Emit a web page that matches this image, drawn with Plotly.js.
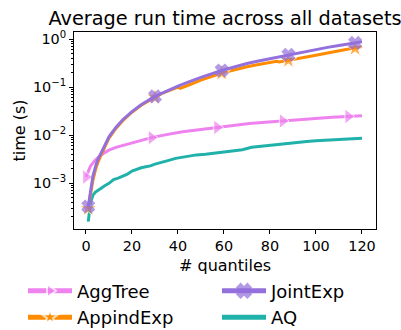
<!DOCTYPE html>
<html>
<head>
<meta charset="utf-8">
<script src="https://cdn.plot.ly/plotly-3.0.1.min.js"></script>
<style>html,body{margin:0;padding:0;background:#fff}#chart{width:401px;height:330px}</style>
</head>
<body>
<div id="chart"></div>
<script>
// ---- data ----
const seriesNames = ['AggTree', 'AppindExp', 'JointExp', 'AQ'];

const aggTreeX = [0, 2, 4, 6, 8, 10, 13, 17, 21, 25, 28.5, 35, 42, 50, 57, 64, 71, 78, 85.5, 93, 100, 107, 114, 120];
const aggTreeY = [1.35e-3, 2.3e-3, 3.0e-3, 3.7e-3, 4.3e-3, 4.9e-3, 5.6e-3, 6.3e-3, 7.1e-3, 7.9e-3, 8.9e-3, 0.0103, 0.0118, 0.0132, 0.0145, 0.016, 0.0175, 0.0185, 0.0198, 0.021, 0.0224, 0.0235, 0.0245, 0.0255];
const aggTreeMarkX = [0, 28.5, 57, 85.5, 114];

const appindX = [1, 2, 3, 4, 5, 6.5, 8, 10, 13, 16, 20, 24, 30, 35, 40, 41, 45, 50, 59, 65, 70, 75, 80, 83, 84, 88, 95, 100, 105, 110, 117, 120];
const appindY = [3.0e-4, 6.0e-4, 1.15e-3, 1.8e-3, 2.6e-3, 3.8e-3, 5.5e-3, 8.7e-3, 0.0138, 0.020, 0.030, 0.042, 0.062, 0.081, 0.100, 0.094, 0.112, 0.14, 0.195, 0.235, 0.265, 0.295, 0.325, 0.345, 0.335, 0.36, 0.42, 0.46, 0.51, 0.56, 0.64, 0.70];
const appindMarkX = [1, 30, 59, 88, 117];

const jointX = [1, 2, 3, 4, 5, 6.5, 8, 10, 13, 16, 20, 24, 30, 35, 40, 45, 50, 59, 65, 70, 75, 80, 88, 95, 100, 105, 110, 117, 120];
const jointY = [3.3e-4, 7.5e-4, 1.4e-3, 2.1e-3, 3.0e-3, 4.2e-3, 6.0e-3, 9.3e-3, 0.0145, 0.021, 0.031, 0.043, 0.064, 0.083, 0.105, 0.13, 0.16, 0.222, 0.27, 0.31, 0.35, 0.39, 0.47, 0.55, 0.61, 0.67, 0.73, 0.83, 0.88];
const jointMarkX = [1, 30, 59, 88, 117];

const aqX = [1, 1.5, 2, 3, 4, 5, 6.5, 8, 10, 12, 14, 16, 18, 20, 22, 24, 26, 28, 30, 33, 36, 39, 42, 45, 48, 52, 56, 60, 64, 68, 72, 76, 80, 84, 88, 92, 96, 100, 104, 108, 112, 116, 120];
const aqY = [1.6e-4, 2.6e-4, 4.0e-4, 5.6e-4, 6.5e-4, 7.0e-4, 7.9e-4, 8.8e-4, 1.0e-3, 1.2e-3, 1.28e-3, 1.42e-3, 1.55e-3, 1.8e-3, 1.95e-3, 2.1e-3, 2.2e-3, 2.3e-3, 2.5e-3, 2.7e-3, 3.0e-3, 3.3e-3, 3.5e-3, 3.7e-3, 3.9e-3, 4.0e-3, 4.2e-3, 4.4e-3, 4.7e-3, 5.0e-3, 5.6e-3, 5.9e-3, 6.2e-3, 6.5e-3, 6.8e-3, 7.1e-3, 7.4e-3, 7.7e-3, 7.8e-3, 8.0e-3, 8.2e-3, 8.4e-3, 8.6e-3];

const xTickVals = [0, 20, 40, 60, 80, 100, 120];
const yTickVals = [1, 0.1, 0.01, 0.001];
const yTickText = ['10<sup>0</sup>', '10<sup>\u22121</sup>', '10<sup>\u22122</sup>', '10<sup>\u22123</sup>'];
const xTitle = '# quantiles';
const yTitle = 'time (s)';

// ---- styling ----
const FONT = 'DejaVu Sans, sans-serif';
function sizes(xs, marks, s) { return xs.map(v => marks.includes(v) ? s : 0); }

const traces = [
  {name: seriesNames[3], x: aqX, y: aqY, mode: 'lines', legend: 'legend2',
   line: {color: '#20B2AA', width: 3}, legendrank: 2},
  {name: seriesNames[0], x: aggTreeX, y: aggTreeY, mode: 'lines+markers', legend: 'legend',
   line: {color: '#EE82EE', width: 3},
   marker: {symbol: 'triangle-right', color: '#EE82EE', size: sizes(aggTreeX, aggTreeMarkX, 13)}, legendrank: 1},
  {name: seriesNames[1], x: appindX, y: appindY, mode: 'lines+markers', legend: 'legend',
   line: {color: '#FF8C00', width: 3},
   marker: {symbol: 'star', color: '#FF8C00', size: sizes(appindX, appindMarkX, 13)}, legendrank: 2},
  {name: seriesNames[2], x: jointX, y: jointY, mode: 'lines+markers', legend: 'legend2',
   line: {color: '#9370DB', width: 3},
   marker: {symbol: 'x', color: '#9370DB', size: sizes(jointX, jointMarkX, 11),
            line: {color: '#9370DB', width: 1.2}}, legendrank: 1}
];

const legendCommon = {
  orientation: 'v', xanchor: 'left', yanchor: 'top', xref: 'container', yref: 'container',
  font: {size: 18, family: FONT, color: '#000'},
  itemsizing: 'constant', itemwidth: 44, traceorder: 'normal',
  bgcolor: 'rgba(0,0,0,0)', borderwidth: 0
};

const layout = {
  width: 401, height: 330,
  margin: {l: 74, r: 25, t: 32, b: 101, pad: 0, autoexpand: false},
  paper_bgcolor: '#fff', plot_bgcolor: '#fff',
  font: {family: FONT, color: '#000'},
  showlegend: true,
  title: {text: 'Average run time across all datasets', font: {size: 19.3, family: FONT, color: '#000'},
          x: 0.5, xref: 'paper', xanchor: 'center', y: 0.945, yref: 'container', yanchor: 'middle'},
  xaxis: {
    range: [-5.2, 126.1], tickmode: 'array', tickvals: xTickVals,
    ticks: 'outside', ticklen: 4, tickwidth: 1, tickcolor: '#000',
    showline: true, linecolor: '#000', linewidth: 1, mirror: true,
    showgrid: false, zeroline: false, automargin: false,
    tickfont: {size: 14.4, family: FONT}
  },
  yaxis: {
    type: 'log', range: [-3.95, 0.146],
    tickmode: 'array', tickvals: yTickVals, ticktext: yTickText,
    ticks: 'outside', ticklen: 4, tickwidth: 1, tickcolor: '#000',
    minor: {dtick: 'D1', ticks: 'outside', ticklen: 2, tickwidth: 1, tickcolor: '#000', showgrid: false},
    showline: true, linecolor: '#000', linewidth: 1, mirror: true,
    showgrid: false, zeroline: false, automargin: false,
    tickfont: {size: 14.4, family: FONT}
  },
  annotations: [
    {text: xTitle, xref: 'paper', yref: 'paper', x: 0.5, y: -0.183, xanchor: 'center', yanchor: 'middle',
     showarrow: false, font: {size: 16, family: FONT, color: '#000'}},
    {text: yTitle, xref: 'paper', yref: 'paper', x: -0.179, y: 0.5, xanchor: 'center', yanchor: 'middle',
     textangle: -90, showarrow: false, font: {size: 16, family: FONT, color: '#000'}}
  ],
  legend: Object.assign({}, legendCommon, {x: 23 / 401, y: 0.174}),
  legend2: Object.assign({}, legendCommon, {x: 217 / 401, y: 0.174})
};

Plotly.newPlot('chart', traces, layout, {displayModeBar: false, staticPlot: true});
</script>
</body>
</html>
